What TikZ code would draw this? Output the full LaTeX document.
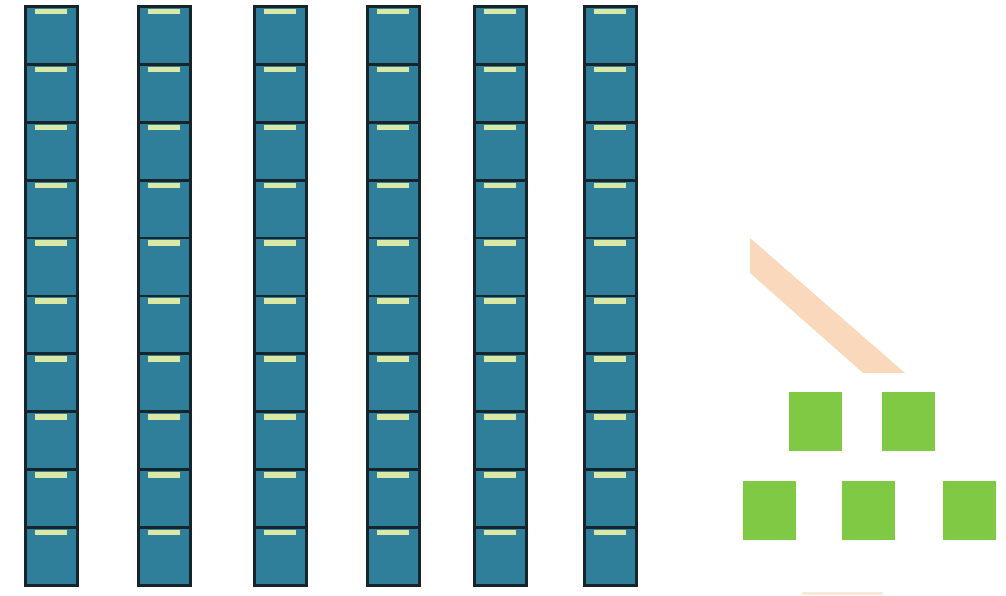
\documentclass[tikz,border=0pt]{standalone}
\usepackage{xcolor}
\usetikzlibrary{positioning,calc}
\definecolor{cellteal}{HTML}{2F7F9B}
\definecolor{celledge}{HTML}{15252B}
\definecolor{barlight}{HTML}{D9E8A4}
\definecolor{leafgreen}{HTML}{7FC945}
\definecolor{peach}{HTML}{F9D8BB}

\begin{document}
\begin{tikzpicture}[
  x=0.02cm, y=-0.02cm,
  cell/.style={
    draw=celledge, fill=cellteal, line width=1.6pt,
    minimum width=1.04cm, minimum height=1.16cm,
    inner sep=0pt, anchor=north west,
  },
  bar/.style={
    fill=barlight, inner sep=0pt,
    minimum width=0.64cm, minimum height=0.11cm,
  },
  leaf/.style={
    fill=leafgreen, inner sep=0pt,
    minimum width=1.06cm, minimum height=1.18cm,
    anchor=north west,
  },
]
\useasboundingbox (0,0) rectangle (1006,595);

% --- columns of cells -------------------------------------------------
\foreach \col/\xl in {1/24, 2/137, 3/253, 4/366, 5/473, 6/583} {
  \foreach \row in {0,...,9} {
    \node[cell] (c\col-\row) at (\xl, 5+57.9*\row) {};
    \node[bar, below=0.07cm of c\col-\row.north] (b\col-\row) {};
  }
}

% --- peach wedge ------------------------------------------------------
\fill[peach] (750,238) -- (905,373) -- (863,373) -- (750,273) -- cycle;
\fill[peach, opacity=0.6] (802,592) rectangle (883,595);

% --- green squares ----------------------------------------------------
\node[leaf] (g1) at (789,392) {};
\node[leaf] (g2) at (882,392) {};
\node[leaf] (g3) at (743,481) {};
\node[leaf] (g4) at (842,481) {};
\node[leaf] (g5) at (943,481) {};

\end{tikzpicture}
\end{document}
